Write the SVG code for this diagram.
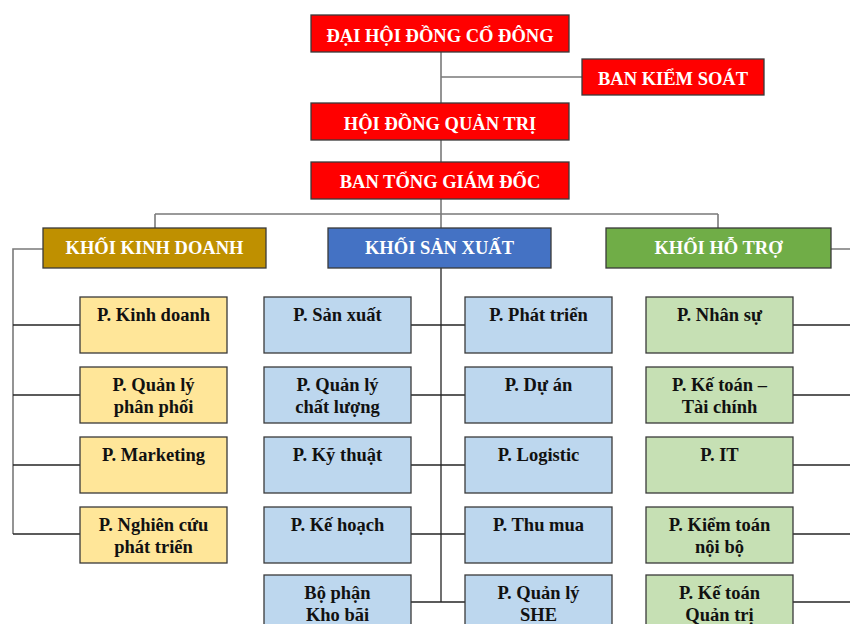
<svg xmlns="http://www.w3.org/2000/svg" width="850" height="624" viewBox="0 0 850 624">
<style>
text{font-family:"Liberation Serif","Times New Roman",serif;font-weight:bold;text-anchor:middle}
.t{fill:#fff;font-size:18.5px}
.s{fill:#111;font-size:18.5px}
.red{fill:#ff0000;stroke:#3a3a3a;stroke-width:1.3}
.kd{fill:#bf9000;stroke:#3a3a3a;stroke-width:1.3}
.sx{fill:#4472c4;stroke:#3a3a3a;stroke-width:1.3}
.ht{fill:#70ad47;stroke:#3a3a3a;stroke-width:1.3}
.y{fill:#ffe699;stroke:#3a3a3a;stroke-width:1.3}
.b{fill:#bdd7ee;stroke:#3a3a3a;stroke-width:1.3}
.g{fill:#c6e0b4;stroke:#3a3a3a;stroke-width:1.3}
.c1{stroke:#7a7a7a;stroke-width:1.6;fill:none}
.c2{stroke:#262626;stroke-width:1.3;fill:none}
</style>
<g id="connectors">
<path class="c1" d="M441 52V214M441 77H582M155 214H718M155 214V228M441 214V228M718 214V228M43 249H13V534M831 249H850"/>
<path class="c2" d="M13 325H80M13 395H80M13 465H80M13 534H80M441 268V602M411 325H465M411 395H465M411 465H465M411 534H465M411 602H465M793 325H850M793 395H850M793 465H850M793 534H850M793 602H850"/>
</g>
<g id="dhdcd"><rect class="red" x="311" y="15" width="258" height="37"/><text class="t" x="440" y="42">ĐẠI HỘI ĐỒNG CỔ ĐÔNG</text></g>
<g id="bks"><rect class="red" x="582" y="59" width="182" height="36"/><text class="t" x="673" y="85">BAN KIỂM SOÁT</text></g>
<g id="hdqt"><rect class="red" x="311" y="103" width="258" height="37"/><text class="t" x="440" y="130">HỘI ĐỒNG QUẢN TRỊ</text></g>
<g id="btgd"><rect class="red" x="311" y="162" width="258" height="37"/><text class="t" x="440" y="188">BAN TỔNG GIÁM ĐỐC</text></g>
<g id="kkd"><rect class="kd" x="43" y="228" width="223" height="40"/><text class="t" x="154.5" y="254">KHỐI KINH DOANH</text></g>
<g id="ksx"><rect class="sx" x="328" y="228" width="223" height="40"/><text class="t" x="439.5" y="254">KHỐI SẢN XUẤT</text></g>
<g id="kht"><rect class="ht" x="606" y="228" width="225" height="40"/><text class="t" x="718.5" y="254">KHỐI HỖ TRỢ</text></g>

<g id="p-kinhdoanh"><rect class="y" x="80" y="297" width="147" height="56"/><text class="s" x="153.5" y="321">P. Kinh doanh</text></g>
<g id="p-qlpp"><rect class="y" x="80" y="367" width="147" height="56"/><text class="s" x="153.5" y="391">P. Quản lý</text><text class="s" x="153.5" y="413">phân phối</text></g>
<g id="p-marketing"><rect class="y" x="80" y="437" width="147" height="56"/><text class="s" x="153.5" y="461">P. Marketing</text></g>
<g id="p-nccpt"><rect class="y" x="80" y="507" width="147" height="56"/><text class="s" x="153.5" y="531">P. Nghiên cứu</text><text class="s" x="153.5" y="553">phát triển</text></g>

<g id="p-sanxuat"><rect class="b" x="264" y="297" width="147" height="56"/><text class="s" x="337.5" y="321">P. Sản xuất</text></g>
<g id="p-qlcl"><rect class="b" x="264" y="367" width="147" height="56"/><text class="s" x="337.5" y="391">P. Quản lý</text><text class="s" x="337.5" y="413">chất lượng</text></g>
<g id="p-kythuat"><rect class="b" x="264" y="437" width="147" height="56"/><text class="s" x="337.5" y="461">P. Kỹ thuật</text></g>
<g id="p-kehoach"><rect class="b" x="264" y="507" width="147" height="56"/><text class="s" x="337.5" y="531">P. Kế hoạch</text></g>
<g id="bp-khobai"><rect class="b" x="264" y="575" width="147" height="56"/><text class="s" x="337.5" y="599">Bộ phận</text><text class="s" x="337.5" y="621">Kho bãi</text></g>

<g id="p-phattrien"><rect class="b" x="465" y="297" width="147" height="56"/><text class="s" x="538.5" y="321">P. Phát triển</text></g>
<g id="p-duan"><rect class="b" x="465" y="367" width="147" height="56"/><text class="s" x="538.5" y="391">P. Dự án</text></g>
<g id="p-logistic"><rect class="b" x="465" y="437" width="147" height="56"/><text class="s" x="538.5" y="461">P. Logistic</text></g>
<g id="p-thumua"><rect class="b" x="465" y="507" width="147" height="56"/><text class="s" x="538.5" y="531">P. Thu mua</text></g>
<g id="p-qlshe"><rect class="b" x="465" y="575" width="147" height="56"/><text class="s" x="538.5" y="599">P. Quản lý</text><text class="s" x="538.5" y="621">SHE</text></g>

<g id="p-nhansu"><rect class="g" x="646" y="297" width="147" height="56"/><text class="s" x="719.5" y="321">P. Nhân sự</text></g>
<g id="p-ketoan-tc"><rect class="g" x="646" y="367" width="147" height="56"/><text class="s" x="719.5" y="391">P. Kế toán –</text><text class="s" x="719.5" y="413">Tài chính</text></g>
<g id="p-it"><rect class="g" x="646" y="437" width="147" height="56"/><text class="s" x="719.5" y="461">P. IT</text></g>
<g id="p-ktnb"><rect class="g" x="646" y="507" width="147" height="56"/><text class="s" x="719.5" y="531">P. Kiểm toán</text><text class="s" x="719.5" y="553">nội bộ</text></g>
<g id="p-ketoan-qt"><rect class="g" x="646" y="575" width="147" height="56"/><text class="s" x="719.5" y="599">P. Kế toán</text><text class="s" x="719.5" y="621">Quản trị</text></g>
</svg>
